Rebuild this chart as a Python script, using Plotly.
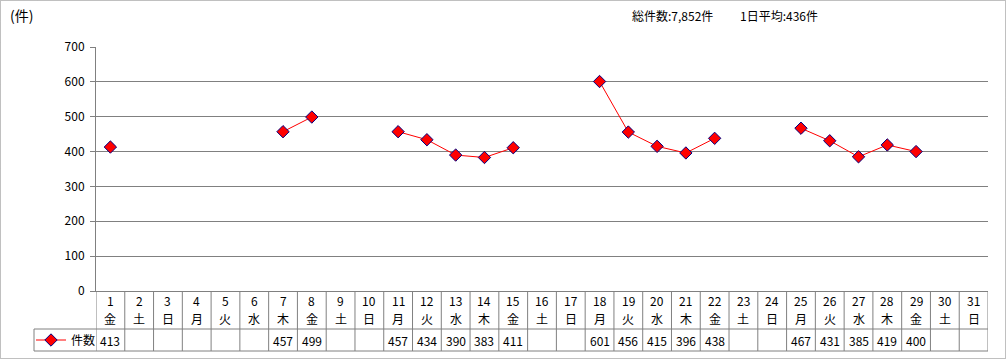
import plotly.graph_objects as go

W, H = 1006, 359

days = list(range(1, 32))
weekdays = ["金", "土", "日", "月", "火", "水", "木"] * 4 + ["金", "土", "日"]
counts = [413, None, None, None, None, None, 457, 499, None, None,
          457, 434, 390, 383, 411, None, None, 601, 456, 415,
          396, 438, None, None, 467, 431, 385, 419, 400, None, None]
series_name = "件数"
y_ticks = [0, 100, 200, 300, 400, 500, 600, 700]
unit_label = "(件)"

FONT = "Noto Sans CJK JP"
GRAY = "#808080"


def px(x):
    return x / W


def py(y):
    return 1 - y / H


vals = [c for c in counts if c is not None]
total = sum(vals)
avg = round(total / len(vals))

fig = go.Figure()
fig.add_trace(go.Scatter(
    x=days, y=counts, name=series_name, mode="lines+markers",
    connectgaps=False,
    line=dict(color="#FF0000", width=1),
    marker=dict(symbol="diamond", size=9.5, color="#FF0000",
                line=dict(color="#000080", width=1)),
    showlegend=True,
))

X0, X1 = 96, 988
YT, YB = 47, 291
ROW1, ROW2 = 329, 351
LEG_L = 34

fig.update_layout(
    width=W, height=H,
    margin=dict(l=0, r=0, t=0, b=0, pad=0, autoexpand=False),
    paper_bgcolor="white", plot_bgcolor="white",
    font=dict(family=FONT, size=12, color="black"),
    xaxis=dict(domain=[px(X0), px(X1)], range=[0.5, 31.5],
               showgrid=False, zeroline=False, showticklabels=False,
               ticks="", showline=True, linecolor=GRAY, linewidth=1,
               automargin=False, fixedrange=True),
    yaxis=dict(domain=[py(YB), py(YT)], range=[0, 700],
               tickvals=y_ticks, showgrid=True, gridcolor=GRAY, gridwidth=1,
               zeroline=False, showline=True, linecolor=GRAY, linewidth=1,
               ticks="outside", ticklen=5, tickcolor=GRAY,
               tickfont=dict(size=12, family=FONT), ticklabelstandoff=3,
               automargin=False, fixedrange=True),
    legend=dict(x=px(LEG_L - 3), xanchor="left", y=py(340), yanchor="middle",
                bgcolor="rgba(0,0,0,0)", borderwidth=0,
                font=dict(size=12, family=FONT)),
)

shapes = []
line_style = dict(color=GRAY, width=1)
shapes.append(dict(type="rect", xref="paper", yref="paper",
                   x0=px(0.5), x1=px(1005.5), y0=py(358.5), y1=py(0.5),
                   line=dict(color=GRAY, width=1, dash="1px,1px")))
for k in range(0, 32):
    shapes.append(dict(type="line", xref="x", yref="paper",
                       x0=k + 0.5, x1=k + 0.5, y0=py(YB), y1=py(ROW2),
                       line=line_style))
for yy in (ROW1, ROW2):
    shapes.append(dict(type="line", xref="paper", yref="paper",
                       x0=px(LEG_L), x1=px(X1), y0=py(yy), y1=py(yy),
                       line=line_style))
shapes.append(dict(type="line", xref="paper", yref="paper",
                   x0=px(LEG_L), x1=px(LEG_L), y0=py(ROW1), y1=py(ROW2),
                   line=line_style))
fig.update_layout(shapes=shapes)

ann = []
for d, wd, c in zip(days, weekdays, counts):
    ann.append(dict(x=d, xref="x", y=py(300), yref="paper", text=str(d),
                    showarrow=False, yanchor="middle", xanchor="center",
                    font=dict(size=12)))
    ann.append(dict(x=d, xref="x", y=py(318), yref="paper", text=wd,
                    showarrow=False, yanchor="middle", xanchor="center",
                    font=dict(size=12)))
    if c is not None:
        ann.append(dict(x=d, xref="x", y=py(340), yref="paper", text=str(c),
                        showarrow=False, yanchor="middle", xanchor="center",
                        font=dict(size=12)))
ann.append(dict(x=px(8), xref="paper", y=py(15), yref="paper", text=unit_label,
                showarrow=False, xanchor="left", yanchor="middle",
                font=dict(size=14)))
ann.append(dict(x=px(630), xref="paper", y=py(15), yref="paper",
                text=f"総件数:{total:,}件", showarrow=False,
                xanchor="left", yanchor="middle", font=dict(size=12)))
ann.append(dict(x=px(738), xref="paper", y=py(15), yref="paper",
                text=f"1日平均:{avg}件", showarrow=False,
                xanchor="left", yanchor="middle", font=dict(size=12)))
fig.update_layout(annotations=ann)

fig.write_html("out.html")
